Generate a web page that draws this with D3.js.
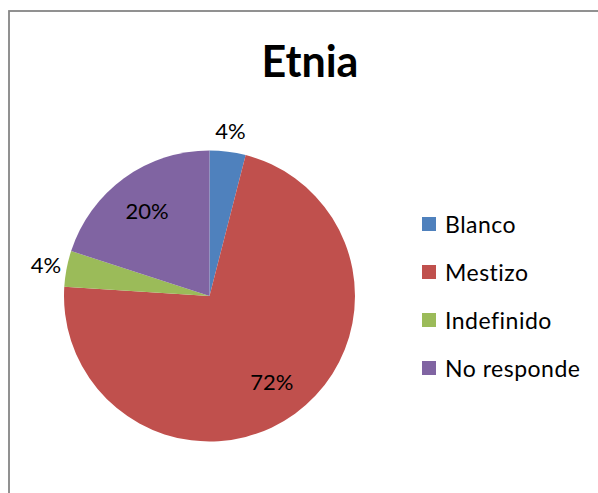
<!DOCTYPE html>
<html>
<head>
<meta charset="utf-8">
<script src="https://cdn.jsdelivr.net/npm/d3@7"></script>
<style>
  html, body { margin: 0; padding: 0; background: #fff; }
  svg { display: block; }
  text { font-family: Lato, "Open Sans", sans-serif; fill: #000; font-variant-ligatures: none; }
</style>
</head>
<body>
<svg id="chart" width="598" height="493"></svg>
<script>
// Etnia: share of respondents per group (percent)
const categories = ["Blanco", "Mestizo", "Indefinido", "No responde"];
const values = [4, 72, 4, 20];
const labels = ["4%", "72%", "4%", "20%"];
const colors = ["#4F81BD", "#C0504D", "#9BBB59", "#8064A2"];
const title = "Etnia";

const svg = d3.select("#chart");

// chart frame
svg.append("rect")
  .attr("x", 9).attr("y", 11)
  .attr("width", 620).attr("height", 520)
  .attr("fill", "#fff")
  .attr("stroke", "#868686")
  .attr("stroke-width", 1.8);

svg.append("text")
  .attr("x", 310).attr("y", 77)
  .attr("text-anchor", "middle")
  .attr("font-size", 43)
  .attr("font-weight", "bold")
  .text(title);

const cx = 209.5, cy = 296, r = 145.5;

const pie = d3.pie().sort(null).value(d => d);
const arcs = pie(values);
const arc = d3.arc().innerRadius(0).outerRadius(r);

const g = svg.append("g").attr("transform", `translate(${cx},${cy})`);

g.selectAll("path.slice")
  .data(arcs)
  .join("path")
  .attr("class", "slice")
  .attr("d", arc)
  .attr("fill", (d, i) => colors[i]);

// small slices get their label outside the pie, large ones inside
const inner = d3.arc().innerRadius(r * 0.73).outerRadius(r * 0.73);
const outer = d3.arc().innerRadius(r + 21).outerRadius(r + 21);

g.selectAll("text.lbl")
  .data(arcs)
  .join("text")
  .attr("class", "lbl")
  .attr("transform", d => {
    const p = (d.data < 10 ? outer : inner).centroid(d);
    return `translate(${p[0]},${p[1]})`;
  })
  .attr("text-anchor", "middle")
  .attr("dominant-baseline", "central")
  .attr("font-size", 22)
  .text((d, i) => labels[i]);

// legend
const legend = svg.append("g").attr("transform", "translate(422,224)");
const rowStep = 48;
const item = legend.selectAll("g")
  .data(categories)
  .join("g")
  .attr("transform", (d, i) => `translate(0,${i * rowStep})`);

item.append("rect")
  .attr("x", 0).attr("y", -7)
  .attr("width", 14).attr("height", 14)
  .attr("fill", (d, i) => colors[i]);

item.append("text")
  .attr("x", 23).attr("y", 0)
  .attr("dominant-baseline", "central")
  .attr("font-size", 23)
  .attr("letter-spacing", 0.5)
  .text(d => d);
</script>
</body>
</html>
